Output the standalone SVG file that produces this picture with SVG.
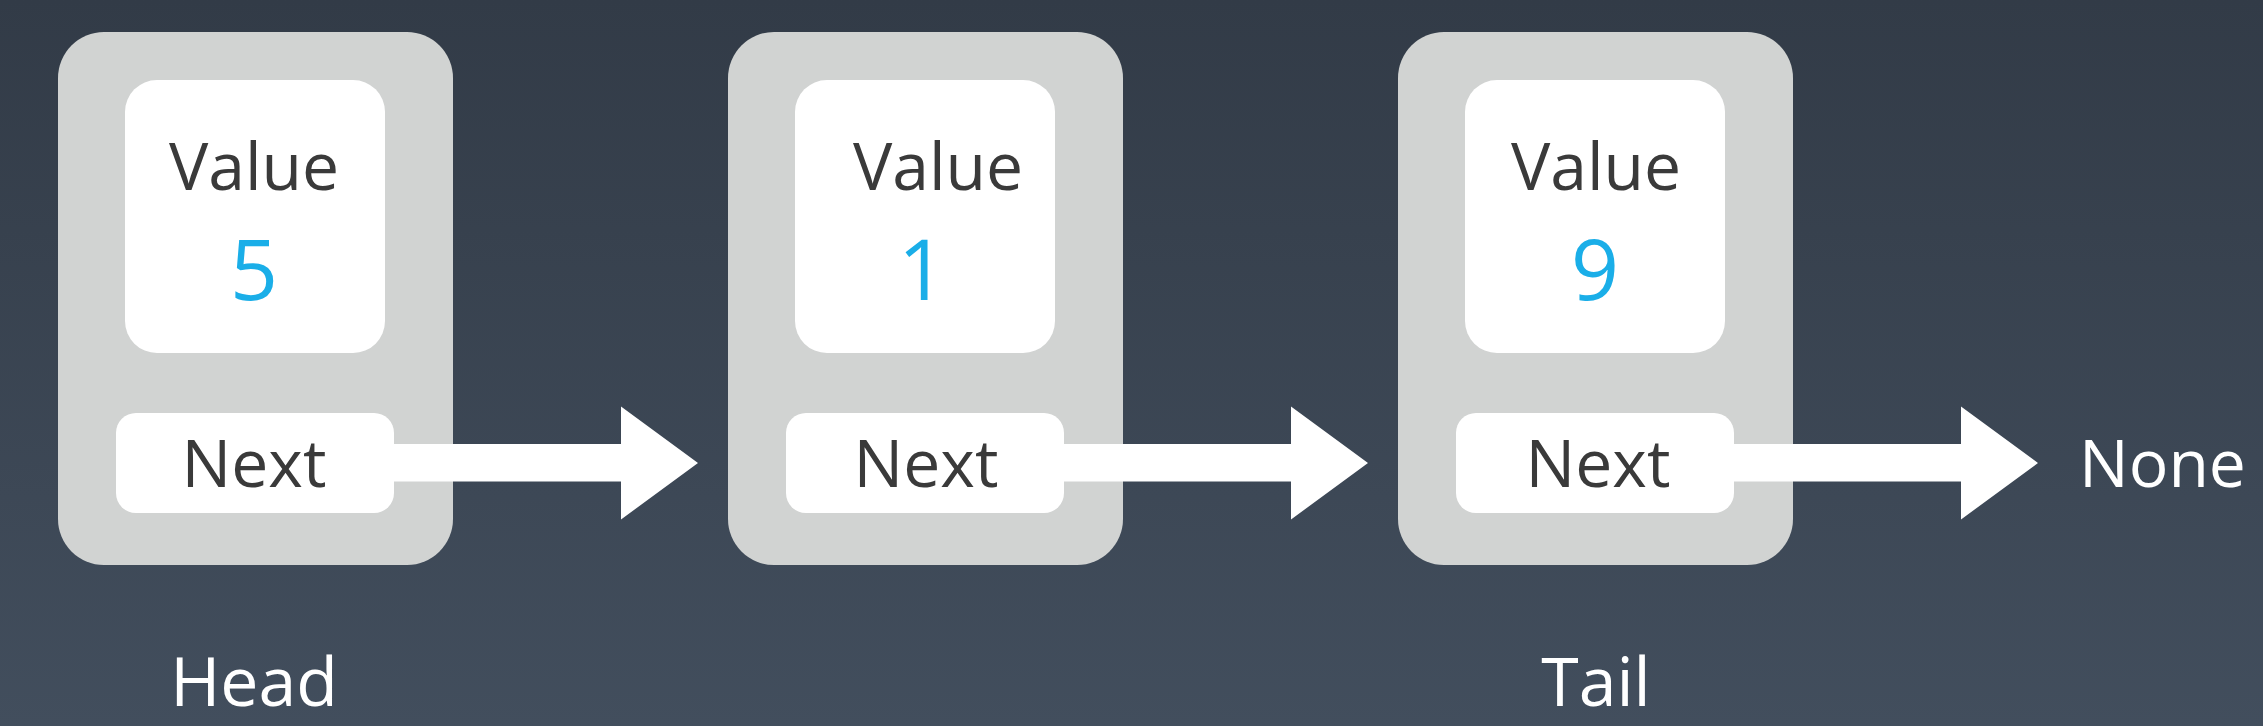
<svg xmlns="http://www.w3.org/2000/svg" width="2263" height="726" viewBox="0 0 2263 726">
<defs>
<linearGradient id="bg" x1="0" y1="0" x2="0" y2="1">
<stop offset="0" stop-color="#323b47"/>
<stop offset="1" stop-color="#424e5d"/>
</linearGradient>
</defs>
<style>
.outer{fill:#d1d3d2}
.box{fill:#ffffff}
.lbl{font-family:"Open Sans","Noto Sans",sans-serif;font-size:66px;fill:#3a3a3a;text-anchor:middle}
.num{font-family:"Open Sans","Noto Sans",sans-serif;font-size:84px;fill:#1aaee8;text-anchor:middle}
.cap{font-family:"Open Sans","Noto Sans",sans-serif;font-size:68px;fill:#ffffff;text-anchor:middle}
.arrow{fill:#ffffff}
</style>
<rect width="2263" height="726" fill="url(#bg)"/>
<g id="node1">
<rect class="outer" x="58" y="32" width="395" height="533" rx="46"/>
<rect class="box" x="125" y="80" width="260" height="273" rx="32"/>
<rect class="box" x="116" y="413" width="278" height="100" rx="20"/>
<text class="lbl" x="254" y="190">Value</text>
<text class="num" x="254" y="300">5</text>
<text class="lbl" x="254" y="487">Next</text>
</g>
<g id="node2">
<rect class="outer" x="728" y="32" width="395" height="533" rx="46"/>
<rect class="box" x="795" y="80" width="260" height="273" rx="32"/>
<rect class="box" x="786" y="413" width="278" height="100" rx="20"/>
<text class="lbl" x="938" y="190">Value</text>
<text class="num" x="922" y="300">1</text>
<text class="lbl" x="926" y="487">Next</text>
</g>
<g id="node3">
<rect class="outer" x="1398" y="32" width="395" height="533" rx="46"/>
<rect class="box" x="1465" y="80" width="260" height="273" rx="32"/>
<rect class="box" x="1456" y="413" width="278" height="100" rx="20"/>
<text class="lbl" x="1596" y="190">Value</text>
<text class="num" x="1595" y="300">9</text>
<text class="lbl" x="1598" y="487">Next</text>
</g>
<g id="labels">
<text class="cap" x="254" y="706">Head</text>
<text class="cap" x="1596" y="706">Tail</text>
<text class="cap" x="2079" y="487" style="text-anchor:start;font-size:66px">None</text>
</g>
<g id="connectors">
<polygon class="arrow" points="394,444 621,444 621,406.5 698,463 621,519.5 621,481.5 394,481.5"/>
<polygon class="arrow" points="1064,444 1291,444 1291,406.5 1368,463 1291,519.5 1291,481.5 1064,481.5"/>
<polygon class="arrow" points="1734,444 1961,444 1961,406.5 2038,463 1961,519.5 1961,481.5 1734,481.5"/>
</g>
</svg>
